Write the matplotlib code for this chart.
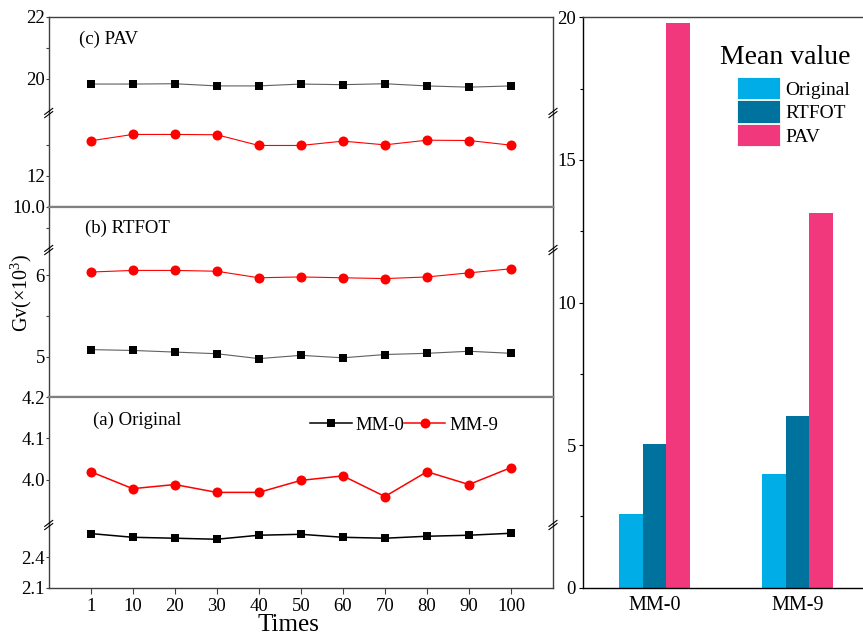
import numpy as np
import matplotlib
matplotlib.use("Agg")
import matplotlib.pyplot as plt
from matplotlib.lines import Line2D
from matplotlib.ticker import FixedLocator, MultipleLocator

plt.rcParams['font.family'] = ['Liberation Serif', 'DejaVu Serif']
plt.rcParams['mathtext.fontset'] = 'custom'
plt.rcParams['mathtext.rm'] = 'Liberation Serif'

# ---- data ----
times = ['1', '10', '20', '30', '40', '50', '60', '70', '80', '90', '100']

orig_mm0 = [2.627, 2.591, 2.582, 2.572, 2.611, 2.620, 2.591, 2.582, 2.601, 2.611, 2.630]
orig_mm9 = [4.019, 3.978, 3.988, 3.969, 3.969, 3.998, 4.009, 3.959, 4.019, 3.988, 4.029]
rtfot_mm0 = [5.09, 5.08, 5.06, 5.04, 4.98, 5.02, 4.99, 5.03, 5.045, 5.07, 5.045]
rtfot_mm9 = [6.04, 6.06, 6.06, 6.05, 5.97, 5.98, 5.97, 5.96, 5.98, 6.03, 6.08]
pav_mm0 = [19.83, 19.83, 19.84, 19.77, 19.77, 19.83, 19.81, 19.84, 19.77, 19.73, 19.77]
pav_mm9 = [14.26, 14.67, 14.67, 14.65, 13.96, 13.96, 14.24, 14.00, 14.30, 14.28, 13.98]

groups = ['MM-0', 'MM-9']
mean_original = [2.58, 3.99]
mean_rtfot = [5.04, 6.01]
mean_pav = [19.80, 13.13]

W, H = 863, 635
fig = plt.figure(figsize=(W / 100, H / 100), dpi=100)


def box(x0, y0, x1, y1):
    return [x0 / W, 1 - y1 / H, (x1 - x0) / W, (y1 - y0) / H]


L, R = 48.7, 553
SP = '#404040'
GR = '#808080'

# (top, break, bottom) in pixels, ylims, ticks for each panel
panels = [
    dict(px=(16.5, 113, 207), up=(18.9, 22.0), lo=(10.0, 16.05),
         upt=[20, 22], upm=[21], lot=[12], lom=[14],
         m0=pav_mm0, m9=pav_mm9, lw=0.8, c0='#606060', label='(c) PAV', lab=(79, 39)),
    dict(px=(207, 250, 397), up=(9.0, 10.0), lo=(4.51, 6.31),
         upt=[10.0], upm=[9.5], lot=[5, 6], lom=[5.5],
         m0=rtfot_mm0, m9=rtfot_mm9, lw=0.8, c0='#606060', label='(b) RTFOT', lab=(85, 228)),
    dict(px=(397, 525, 588), up=(3.89, 4.2), lo=(2.1, 2.71),
         upt=[4.0, 4.1, 4.2], upm=[], lot=[2.1, 2.4], lom=[],
         m0=orig_mm0, m9=orig_mm9, lw=1.1, c0='black', label='(a) Original', lab=(93, 420)),
]

for k, p in enumerate(panels):
    top, brk, bot = p['px']
    ax_u = fig.add_axes(box(L, top, R, brk))
    ax_l = fig.add_axes(box(L, brk, R, bot))
    for ax in (ax_u, ax_l):
        ax.plot(times, p['m0'], color=p['c0'], lw=p['lw'], marker='s', ms=6.2,
                mfc='black', mec='black', mew=0, label='MM-0')
        ax.plot(times, p['m9'], color='red', lw=p['lw'], marker='o', ms=7.2,
                mfc='red', mec='red', mew=0, label='MM-9')
        ax.set_xlim(-1, 11)
        for s in ax.spines.values():
            s.set_color(SP)
            s.set_linewidth(1.0)
        ax.tick_params(axis='y', direction='out', length=2.5, width=0.8, color=SP,
                       labelsize=13.5, pad=0.3)
        ax.tick_params(axis='y', which='minor', direction='out', length=2, width=0.8, color=SP)
    ax_u.set_ylim(*p['up'])
    ax_l.set_ylim(*p['lo'])
    ax_u.yaxis.set_major_locator(FixedLocator(p['upt']))
    ax_u.yaxis.set_minor_locator(FixedLocator(p['upm']))
    ax_l.yaxis.set_major_locator(FixedLocator(p['lot']))
    ax_l.yaxis.set_minor_locator(FixedLocator(p['lom']))
    if k == 1:
        ax_u.set_yticklabels(['10.0'])
    elif k == 2:
        ax_u.set_yticklabels(['4.0', '4.1', '4.2'])
        ax_l.set_yticklabels(['2.1', '2.4'])
    ax_u.spines['bottom'].set_visible(False)
    ax_l.spines['top'].set_visible(False)
    ax_u.tick_params(axis='x', bottom=False, labelbottom=False)
    if k > 0:
        ax_u.spines['top'].set_color(GR)
        ax_u.spines['top'].set_linewidth(1.6)
    if k < 2:
        ax_l.tick_params(axis='x', bottom=False, labelbottom=False)
        ax_l.spines['bottom'].set_color(GR)
        ax_l.spines['bottom'].set_linewidth(1.6)
    else:
        ax_l.tick_params(axis='x', direction='out', length=4, width=0.8, color=SP,
                         labelsize=13.5, pad=3)
        ax_u.legend(loc='center', bbox_to_anchor=(0.705, 0.78), ncol=2, frameon=False,
                    fontsize=13.5, handlelength=2.2, handletextpad=0.2, columnspacing=0.0,
                    borderaxespad=0)
    fig.text(p['lab'][0] / W, 1 - p['lab'][1] / H, p['label'], fontsize=13.5,
             ha='left', va='center')
    # break marks on both spines
    for x in (L, R):
        for dy in (-1.6, 1.6):
            fig.add_artist(Line2D([(x - 4) / W, (x + 4) / W],
                                  [1 - (brk + dy + 3) / H, 1 - (brk + dy - 3) / H],
                                  color='black', lw=0.8))

fig.text(21 / W, 1 - 293 / H, r'Gv(×10$^{3}$)', rotation=90, fontsize=14.5,
         ha='center', va='center')
fig.text(288 / W, 1 - 625 / H, 'Times', fontsize=18, ha='center', va='center')

# ---- bar chart of mean values ----
axb = fig.add_axes(box(583, 17.3, 869, 587.7))
xb = np.arange(len(groups))
w = 0.167
axb.bar(xb - w, mean_original, w, color='#00ade6', label='Original')
axb.bar(xb, mean_rtfot, w, color='#00729e', label='RTFOT')
axb.bar(xb + w, mean_pav, w, color='#f2387c', label='PAV')
axb.set_xlim(-0.5, 1.5)
axb.set_ylim(0, 20)
axb.set_xticks(xb)
axb.set_xticklabels(groups)
axb.yaxis.set_major_locator(MultipleLocator(5))
axb.yaxis.set_minor_locator(MultipleLocator(2.5))
axb.tick_params(axis='x', length=0, labelsize=14.5, pad=6)
axb.tick_params(axis='y', direction='out', length=3, width=0.8, labelsize=13.5, pad=2)
axb.tick_params(axis='y', which='minor', direction='out', length=2, width=0.8)
for s in axb.spines.values():
    s.set_color('black')
    s.set_linewidth(1.0)
axb.spines['top'].set_color(SP)
leg = axb.legend(loc='upper right', bbox_to_anchor=(850 / W, 1 - 45 / H),
                 bbox_transform=fig.transFigure, frameon=False, fontsize=14,
                 title='Mean value', title_fontsize=20, handlelength=2.25,
                 handleheight=1.4, labelspacing=0.05, handletextpad=0.25,
                 borderpad=0, borderaxespad=0)
leg._legend_box.sep = 5
leg._legend_box.align = 'right'
for h in leg.legend_handles:
    h.set_edgecolor('white')
    h.set_linewidth(0.6)

fig.savefig('out.png', dpi=100)
